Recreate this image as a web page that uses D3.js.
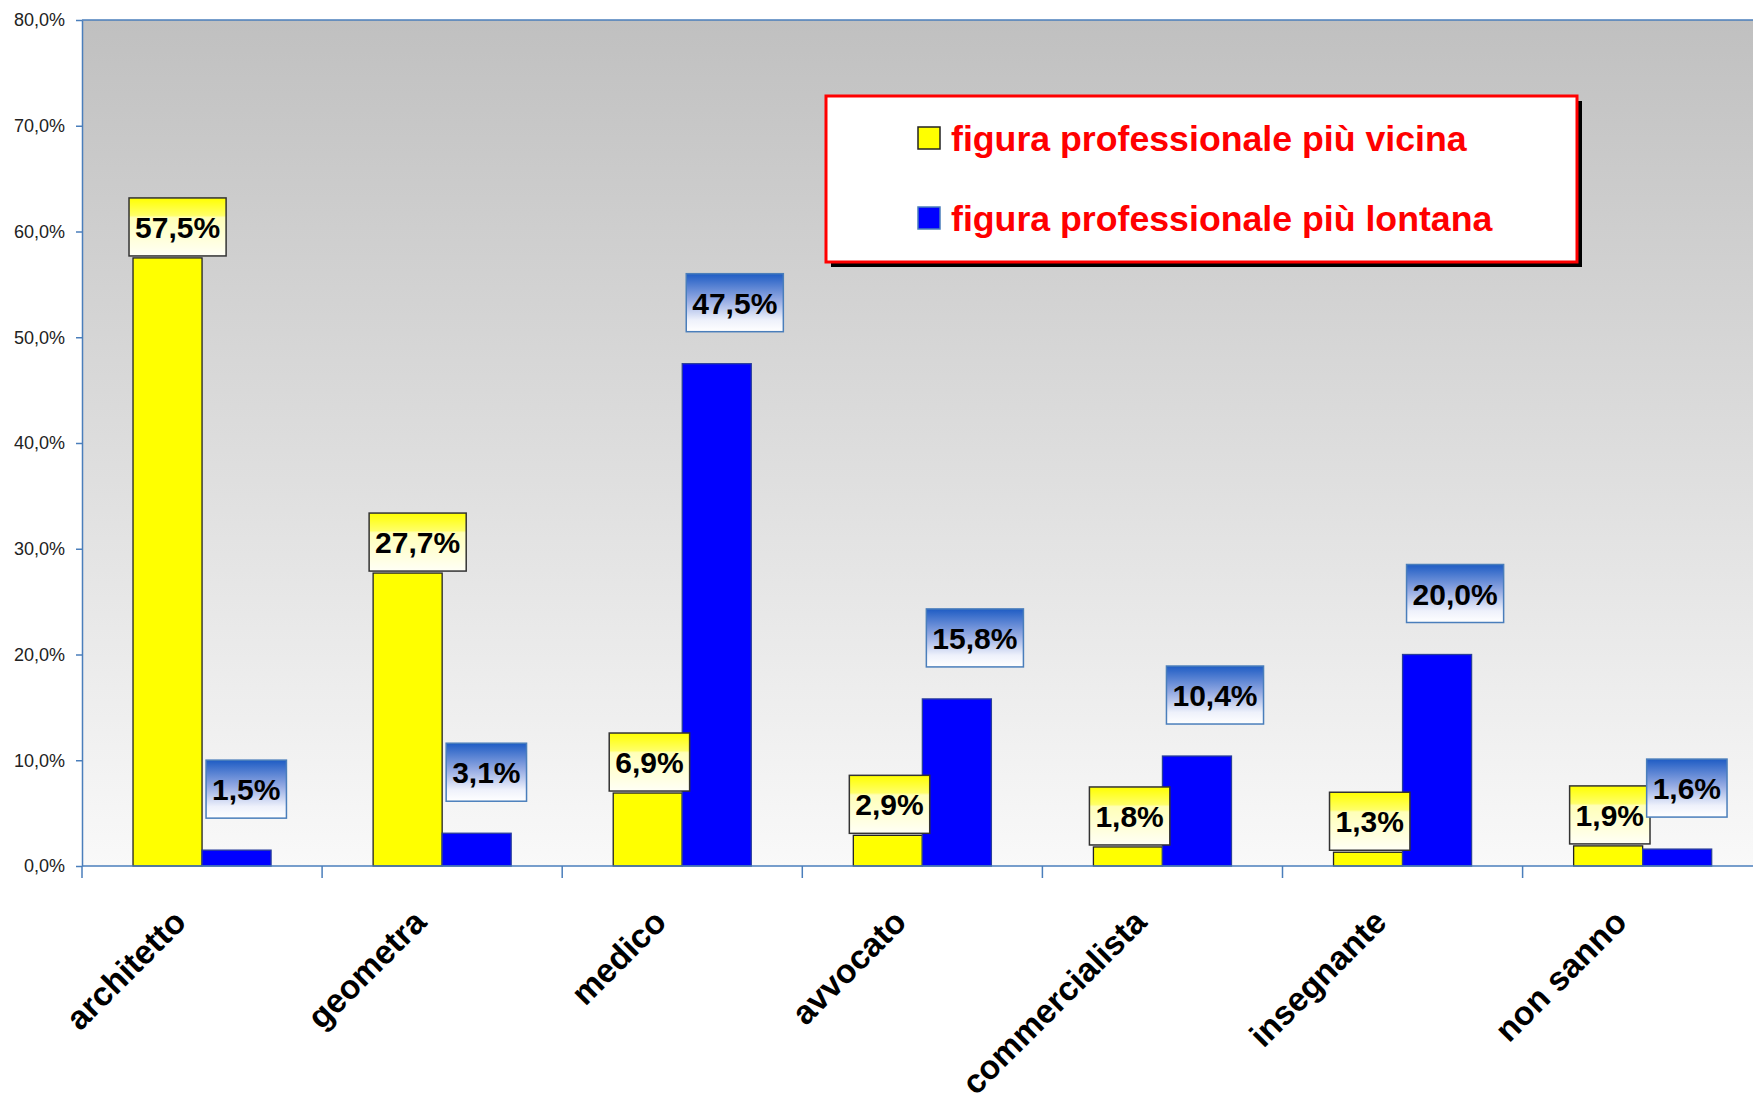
<!DOCTYPE html>
<html>
<head>
<meta charset="utf-8">
<script src="https://cdn.jsdelivr.net/npm/d3@7"></script>
<style>
  body { margin: 0; background: #fff; }
  text { font-family: "Liberation Sans", Arial, sans-serif; }
</style>
</head>
<body>
<svg id="chart"></svg>
<script>
var categories = ["architetto", "geometra", "medico", "avvocato", "commercialista", "insegnante", "non sanno"];
var series = ["figura professionale più vicina", "figura professionale più lontana"];
var vicina = [57.5, 27.7, 6.9, 2.9, 1.8, 1.3, 1.9];
var lontana = [1.5, 3.1, 47.5, 15.8, 10.4, 20.0, 1.6];
var yTicks = [0, 10, 20, 30, 40, 50, 60, 70, 80];

var W = 1753, H = 1105;
var margin = {top: 20, left: 82, bottom: 866};
var bandW = 240.1;

var svg = d3.select("#chart").attr("width", W).attr("height", H);
var defs = svg.append("defs");

// plot background gradient
var bg = defs.append("linearGradient").attr("id", "bg").attr("x1", 0).attr("y1", 0).attr("x2", 0).attr("y2", 1);
bg.append("stop").attr("offset", "0%").attr("stop-color", "#c0c0c0");
bg.append("stop").attr("offset", "100%").attr("stop-color", "#f9f9f9");

var gy = defs.append("linearGradient").attr("id", "lblY").attr("x1", 0).attr("y1", 0).attr("x2", 0).attr("y2", 1);
gy.append("stop").attr("offset", "0%").attr("stop-color", "#ffff00");
gy.append("stop").attr("offset", "30%").attr("stop-color", "#ffff66");
gy.append("stop").attr("offset", "34%").attr("stop-color", "#ffffb8");
gy.append("stop").attr("offset", "100%").attr("stop-color", "#fffff6");

var gb = defs.append("linearGradient").attr("id", "lblB").attr("x1", 0).attr("y1", 0).attr("x2", 0).attr("y2", 1);
gb.append("stop").attr("offset", "0%").attr("stop-color", "#1e5cc4");
gb.append("stop").attr("offset", "45%").attr("stop-color", "#93a9e2");
gb.append("stop").attr("offset", "80%").attr("stop-color", "#eef1fb");
gb.append("stop").attr("offset", "100%").attr("stop-color", "#ffffff");

var x = d3.scaleBand()
    .domain(categories)
    .range([margin.left, margin.left + bandW * categories.length]);
var xSub = d3.scaleBand()
    .domain(series)
    .range([x.bandwidth() * 0.2125, x.bandwidth() * 0.7875]);
var y = d3.scaleLinear()
    .domain([0, 80])
    .range([margin.bottom, margin.top]);

svg.append("rect")
    .attr("x", margin.left).attr("y", margin.top)
    .attr("width", W - margin.left).attr("height", margin.bottom - margin.top)
    .attr("fill", "url(#bg)");

// top border of plot
svg.append("line")
    .attr("x1", margin.left).attr("x2", W)
    .attr("y1", margin.top).attr("y2", margin.top)
    .attr("stroke", "#4a7ebb").attr("stroke-width", 1.5);

var colors = ["#ffff00", "#0000ff"];
var strokes = ["#222222", "#2a3f9a"];
var rows = categories.map(function (c, i) {
  return {cat: c, vals: [vicina[i], lontana[i]]};
});

var groups = svg.selectAll("g.cat")
    .data(rows)
  .enter().append("g")
    .attr("class", "cat")
    .attr("transform", function (d) { return "translate(" + x(d.cat) + ",0)"; });

groups.selectAll("rect.bar")
    .data(function (d) { return d.vals.map(function (v, k) { return {s: series[k], k: k, v: v}; }); })
  .enter().append("rect")
    .attr("class", "bar")
    .attr("x", function (d) { return xSub(d.s); })
    .attr("y", function (d) { return y(d.v); })
    .attr("width", xSub.bandwidth())
    .attr("height", function (d) { return y(0) - y(d.v); })
    .attr("fill", function (d) { return colors[d.k]; })
    .attr("stroke", function (d) { return strokes[d.k]; })
    .attr("stroke-width", 1.3);

// axes
var yAxis = d3.axisLeft(y)
    .tickValues(yTicks)
    .tickSize(6)
    .tickSizeOuter(0)
    .tickFormat(function (d) { return d.toFixed(1).replace(".", ",") + "%"; });
var ya = svg.append("g")
    .attr("transform", "translate(" + margin.left + ",0)")
    .call(yAxis);
ya.select(".domain").attr("stroke", "#4a7ebb").attr("stroke-width", 1.5);
ya.selectAll(".tick line").attr("stroke", "#4a7ebb").attr("stroke-width", 1.5);
ya.selectAll(".tick text")
    .attr("x", -17)
    .style("font-size", "18px")
    .style("font-family", "'Liberation Sans', Arial, sans-serif")
    .attr("fill", "#222");

svg.append("line")
    .attr("x1", margin.left).attr("x2", W)
    .attr("y1", y(0)).attr("y2", y(0))
    .attr("stroke", "#4a7ebb").attr("stroke-width", 1.5);

svg.selectAll("line.xtick")
    .data(categories)
  .enter().append("line")
    .attr("class", "xtick")
    .attr("x1", function (d) { return x(d); })
    .attr("x2", function (d) { return x(d); })
    .attr("y1", y(0)).attr("y2", y(0) + 12)
    .attr("stroke", "#4a7ebb").attr("stroke-width", 1.5);

svg.selectAll("text.xlab")
    .data(categories)
  .enter().append("text")
    .attr("class", "xlab")
    .attr("transform", function (d) {
      return "translate(" + (x(d) + x.bandwidth() / 2 - 14) + "," + (y(0) + 58) + ") rotate(-45)";
    })
    .attr("text-anchor", "end")
    .style("font-size", "33.5px")
    .style("font-weight", "bold")
    .attr("fill", "#000")
    .text(function (d) { return d; });

// data labels
var fmt = function (v) { return v.toFixed(1).replace(".", ",") + "%"; };
var lblGap = [2, 32];
var lblShift = [-4, 4];
var lblFill = ["url(#lblY)", "url(#lblB)"];
var lblStroke = ["#333333", "#4a7ebb"];
var boxH = 58;

var labels = groups.selectAll("g.lbl")
    .data(function (d) { return d.vals.map(function (v, k) { return {s: series[k], k: k, v: v}; }); })
  .enter().append("g")
    .attr("class", "lbl");

labels.each(function (d) {
  var g = d3.select(this);
  var t = g.append("text")
      .style("font-size", "30px")
      .style("font-weight", "bold")
      .attr("fill", "#000")
      .text(fmt(d.v));
  var tw = t.node().getComputedTextLength();
  var bw = tw + 12;
  var bx = xSub(d.s) + lblShift[d.k];
  var by = y(d.v) - lblGap[d.k] - boxH;
  g.insert("rect", "text")
      .attr("x", bx).attr("y", by)
      .attr("width", bw).attr("height", boxH)
      .attr("fill", lblFill[d.k])
      .attr("stroke", lblStroke[d.k])
      .attr("stroke-width", 1.5);
  t.attr("x", bx + 6).attr("y", by + boxH / 2 + 11);
});

// legend
var lg = svg.append("g").attr("transform", "translate(826,96)");
var lgW = 751, lgH = 166;
lg.append("rect").attr("x", 5).attr("y", 5).attr("width", lgW).attr("height", lgH).attr("fill", "#000");
lg.append("rect").attr("x", 0).attr("y", 0).attr("width", lgW).attr("height", lgH)
    .attr("fill", "#fff").attr("stroke", "#ff0000").attr("stroke-width", 3);

var li = lg.selectAll("g.item")
    .data(series)
  .enter().append("g")
    .attr("class", "item")
    .attr("transform", function (d, i) { return "translate(92," + (31 + i * 80) + ")"; });
li.append("rect")
    .attr("width", 22).attr("height", 22)
    .attr("fill", function (d, i) { return colors[i]; })
    .attr("stroke", function (d, i) { return i === 0 ? "#222" : "#4a7ebb"; })
    .attr("stroke-width", 1.5);
li.append("text")
    .attr("x", 33).attr("y", 24)
    .style("font-size", "35.7px")
    .style("font-weight", "bold")
    .attr("fill", "#ff0000")
    .text(function (d) { return d; });
</script>
</body>
</html>
